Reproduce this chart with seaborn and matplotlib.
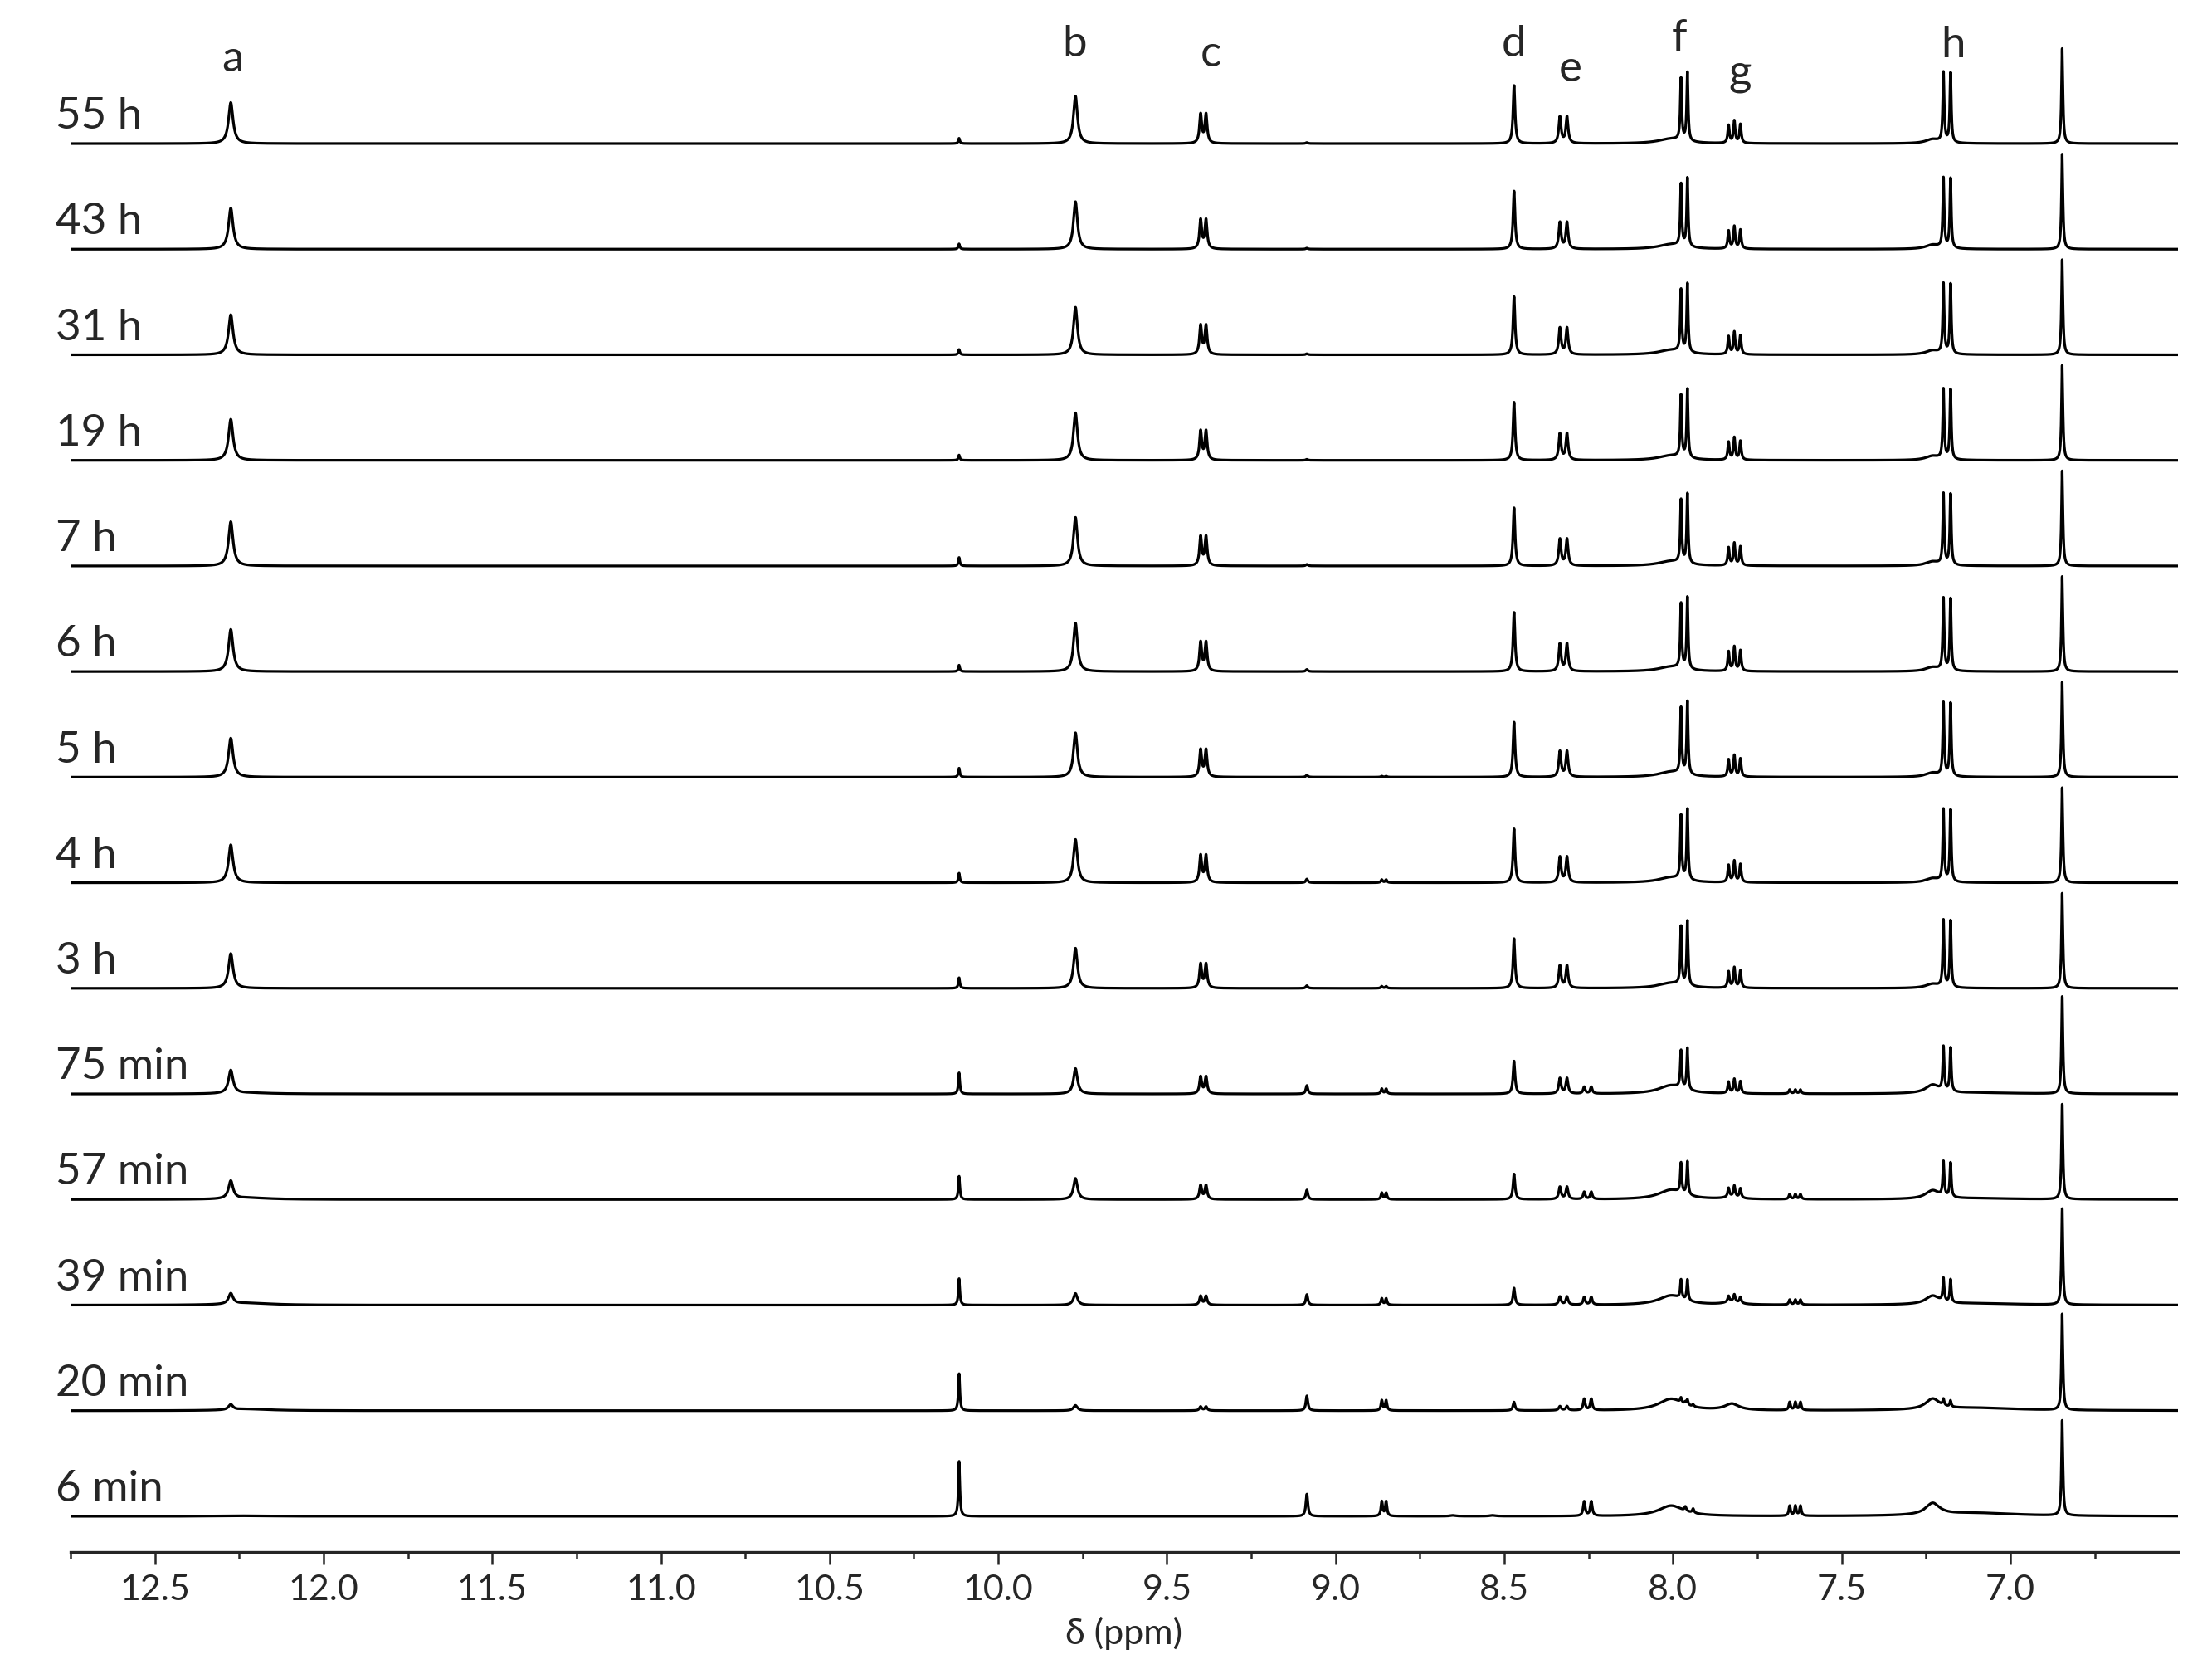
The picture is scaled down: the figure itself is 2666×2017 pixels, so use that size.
import numpy as np
import pandas as pd
import matplotlib
matplotlib.use("Agg")
import matplotlib.pyplot as plt
import matplotlib.transforms as mtransforms
from matplotlib.ticker import FixedLocator, FormatStrFormatter
import seaborn as sns

# spectra from top to bottom
spectrum_labels = ["55 h", "43 h", "31 h", "19 h", "7 h", "6 h", "5 h", "4 h", "3 h",
                   "75 min", "57 min", "39 min", "20 min", "6 min"]

# chemical shifts (ppm) of each signal, multiplet lines listed one by one
shift_a = [12.275]
shift_b = [9.771]
shift_c = [9.400, 9.384]
shift_d = [8.471]
shift_e = [8.335, 8.314]
shift_f = [7.976, 7.957]
shift_g = [7.835, 7.818, 7.800]
shift_h = [7.198, 7.177]
shift_ref = [6.846]
shift_s1 = [10.116]
shift_s2 = [9.085]
shift_s3 = [8.863, 8.850]
shift_s4 = [8.263, 8.242]
shift_s5 = [7.654, 7.637, 7.622]
shift_s6 = [7.963, 7.940]
shift_hump_f = [8.005]
shift_hump_g = [7.825]
shift_hump_h = [7.230]
shift_tail_h = [7.10]
shift_tail_a = [12.22]
shift_small = [8.652, 8.534]

# relative intensity of the lines inside each multiplet
rel_f = [0.9, 1.0]
rel_g = [0.8, 1.0, 0.85]

# line widths (ppm)
width_sharp = 0.005
width_a = 0.016
width_b = 0.014

# peak heights per spectrum (top to bottom), in units of the stacking offset
height_a = [0.39, 0.39, 0.38, 0.39, 0.42, 0.40, 0.37, 0.36, 0.33, 0.22, 0.17, 0.10, 0.05, 0.0]
height_b = [0.45, 0.45, 0.45, 0.45, 0.46, 0.46, 0.42, 0.41, 0.38, 0.24, 0.20, 0.11, 0.05, 0.0]
height_c = [0.29, 0.29, 0.29, 0.29, 0.29, 0.29, 0.27, 0.27, 0.24, 0.17, 0.14, 0.09, 0.04, 0.0]
height_d = [0.55, 0.55, 0.55, 0.55, 0.55, 0.56, 0.52, 0.51, 0.47, 0.31, 0.24, 0.16, 0.08, 0.0]
height_e = [0.26, 0.26, 0.26, 0.26, 0.26, 0.27, 0.25, 0.25, 0.22, 0.15, 0.12, 0.08, 0.04, 0.0]
height_f = [0.66, 0.66, 0.66, 0.66, 0.67, 0.69, 0.70, 0.68, 0.62, 0.40, 0.32, 0.20, 0.05, 0.0]
height_g = [0.22, 0.22, 0.22, 0.22, 0.22, 0.24, 0.21, 0.21, 0.20, 0.14, 0.11, 0.07, 0.0, 0.0]
height_h = [0.67, 0.67, 0.67, 0.67, 0.68, 0.69, 0.70, 0.69, 0.64, 0.42, 0.33, 0.22, 0.06, 0.0]
height_ref = [0.90, 0.90, 0.90, 0.90, 0.90, 0.90, 0.90, 0.90, 0.90, 0.92, 0.90, 0.91, 0.91, 0.90]
height_s1 = [0.05, 0.05, 0.05, 0.05, 0.08, 0.06, 0.085, 0.09, 0.10, 0.20, 0.22, 0.25, 0.35, 0.52]
height_s2 = [0.01, 0.01, 0.01, 0.01, 0.015, 0.02, 0.02, 0.035, 0.025, 0.08, 0.09, 0.10, 0.14, 0.21]
height_s3 = [0.0, 0.0, 0.0, 0.0, 0.0, 0.0, 0.01, 0.03, 0.02, 0.05, 0.065, 0.065, 0.10, 0.145]
height_s4 = [0.0, 0.0, 0.0, 0.0, 0.0, 0.0, 0.0, 0.0, 0.0, 0.065, 0.07, 0.075, 0.11, 0.14]
height_s5 = [0.0, 0.0, 0.0, 0.0, 0.0, 0.0, 0.0, 0.0, 0.0, 0.04, 0.05, 0.05, 0.08, 0.10]
height_s6 = [0.0, 0.0, 0.0, 0.0, 0.0, 0.0, 0.0, 0.0, 0.0, 0.0, 0.0, 0.0, 0.02, 0.04]
height_hump_f = [0.045, 0.045, 0.045, 0.045, 0.045, 0.045, 0.05, 0.05, 0.05, 0.08, 0.09, 0.09, 0.11, 0.10]
height_hump_g = [0.0, 0.0, 0.0, 0.0, 0.0, 0.0, 0.0, 0.0, 0.0, 0.0, 0.02, 0.03, 0.06, 0.0]
height_hump_h = [0.04, 0.04, 0.04, 0.04, 0.04, 0.04, 0.04, 0.04, 0.04, 0.08, 0.08, 0.08, 0.10, 0.11]
height_tail_h = [0.0, 0.0, 0.0, 0.0, 0.0, 0.0, 0.0, 0.0, 0.0, 0.01, 0.01, 0.015, 0.025, 0.03]
height_tail_a = [0.0, 0.0, 0.0, 0.0, 0.0, 0.0, 0.0, 0.0, 0.0, 0.01, 0.015, 0.02, 0.015, 0.005]
height_small = [0.0, 0.0, 0.0, 0.0, 0.0, 0.0, 0.0, 0.0, 0.0, 0.0, 0.0, 0.0, 0.0, 0.008]

# signal letters and where they sit
peak_letters = ["a", "b", "c", "d", "e", "f", "g", "h"]
letter_shift = [12.270, 9.775, 9.370, 8.471, 8.305, 7.982, 7.802, 7.170]
letter_level = [13.684, 13.825, 13.730, 13.825, 13.590, 13.880, 13.555, 13.817]

signals = [
    (shift_a, None, width_a, height_a),
    (shift_b, None, width_b, height_b),
    (shift_c, None, 0.008, height_c),
    (shift_d, None, 0.007, height_d),
    (shift_e, None, 0.008, height_e),
    (shift_f, rel_f, width_sharp, height_f),
    (shift_g, rel_g, 0.006, height_g),
    (shift_h, None, width_sharp, height_h),
    (shift_ref, None, width_sharp, height_ref),
    (shift_s1, None, width_sharp, height_s1),
    (shift_s2, None, 0.007, height_s2),
    (shift_s3, None, 0.006, height_s3),
    (shift_s4, None, 0.007, height_s4),
    (shift_s5, None, 0.006, height_s5),
    (shift_s6, None, 0.006, height_s6),
    (shift_hump_f, None, 0.09, height_hump_f),
    (shift_hump_g, None, 0.05, height_hump_g),
    (shift_hump_h, None, 0.05, height_hump_h),
    (shift_tail_h, None, 0.30, height_tail_h),
    (shift_tail_a, None, 0.15, height_tail_a),
    (shift_small, None, 0.02, height_small),
]


def lorentz(x, x0, fwhm):
    return 1.0 / (1.0 + ((x - x0) / (fwhm / 2.0)) ** 2)


ppm = np.linspace(6.5, 12.75, 16000)

# one normalised lineshape per signal, scaled by the height read for each spectrum
shapes = []
for shifts, rel, width, heights in signals:
    rel = rel if rel is not None else [1.0] * len(shifts)
    prof = sum(r * lorentz(ppm, s, width) for s, r in zip(shifts, rel))
    shapes.append((prof / prof.max(), heights))

n = len(spectrum_labels)
frames = []
for k, lab in enumerate(spectrum_labels):
    offset = n - 1 - k
    y = np.zeros_like(ppm)
    for prof, heights in shapes:
        y += heights[k] * prof
    frames.append(pd.DataFrame({"ppm": ppm, "intensity": y + offset, "spectrum": lab}))
df = pd.concat(frames, ignore_index=True)

sns.set_style("ticks")
plt.rcParams["font.family"] = ["Lato", "DejaVu Sans"]

fig = plt.figure(figsize=(26.66, 20.17), dpi=100)
ax = fig.add_axes([0.0319, 0.0729, 0.9527, 0.9271])

sns.lineplot(data=df, x="ppm", y="intensity", units="spectrum", estimator=None,
             sort=False, color="black", linewidth=2.3, ax=ax, legend=False)

ax.set_xlim(12.75, 6.503)
ax.set_ylim(-0.338, 14.36)

for side in ["left", "top", "right"]:
    ax.spines[side].set_visible(False)
ax.spines["bottom"].set_linewidth(2.4)
ax.set_yticks([])
ax.set_ylabel("")

ax.xaxis.set_major_locator(FixedLocator(np.arange(7.0, 12.51, 0.5)))
ax.xaxis.set_minor_locator(FixedLocator(np.arange(6.75, 12.76, 0.5)))
ax.xaxis.set_major_formatter(FormatStrFormatter("%.1f"))
ax.tick_params(axis="x", which="major", direction="out", length=10.8, width=1.8,
               labelsize=31, pad=9)
ax.tick_params(axis="x", which="minor", direction="out", length=5.5, width=1.8)
ax.set_xlabel("δ (ppm)", fontsize=31, labelpad=9)

# time labels on the left
trans = mtransforms.blended_transform_factory(fig.transFigure, ax.transData)
for k, lab in enumerate(spectrum_labels):
    ax.text(0.0251, n - 1 - k + 0.14, lab, transform=trans, fontsize=38,
            ha="left", va="baseline", clip_on=False)

# signal letters above the top spectrum
for letter, xs, ys in zip(peak_letters, letter_shift, letter_level):
    ax.text(xs, ys, letter, fontsize=38, ha="center", va="baseline", clip_on=False)

fig.savefig("out.png", dpi=100)
